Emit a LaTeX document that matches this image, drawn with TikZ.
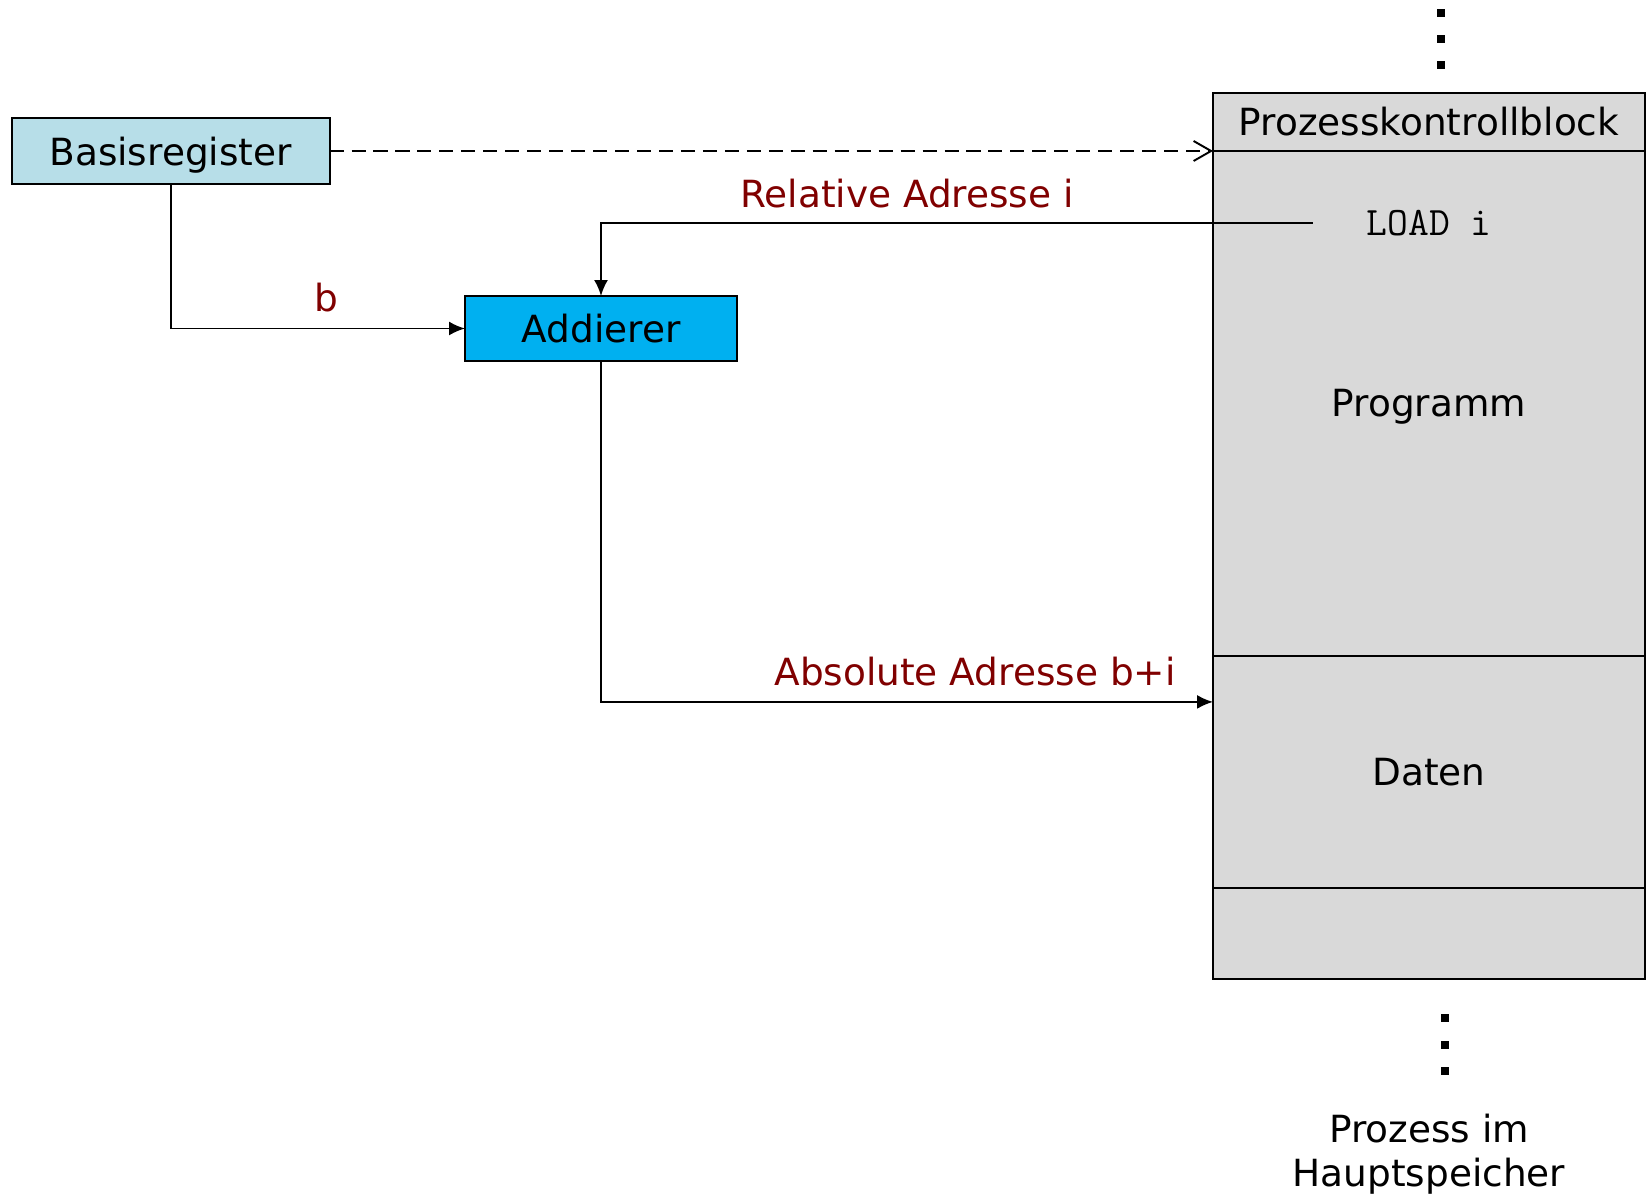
\documentclass[tikz,border=0pt]{standalone}
\usepackage{fontspec}
\setmainfont{DejaVu Sans}
\usetikzlibrary{arrows.meta, positioning}

\definecolor{regcyan}{HTML}{B7DEE8}
\definecolor{addblue}{HTML}{00B0F0}
\definecolor{memgray}{HTML}{D9D9D9}
\definecolor{adrred}{HTML}{800000}

\begin{document}
\begin{tikzpicture}[
            x = 0.02cm, y = -0.02cm,
            > = {Latex[length=3.2mm, width=2.8mm]},
            line width = 1.1pt,
            node distance = 0cm,
            every node/.style = {font=\fontsize{21.3}{25}\selectfont}
        ]

        \tikzstyle{box}=[
            draw = black,
            line width = 1.1pt,
            outer sep = 0pt,
            inner sep = 0pt,
            text depth = 0pt
        ]
        \tikzstyle{mem}=[box, fill = memgray, minimum width = 8.64cm]
        \tikzstyle{lbl}=[text = adrred]

        \useasboundingbox (0,0) rectangle (1651,1195);

        % registers
        \node[box, fill=regcyan, minimum width=6.36cm, minimum height=1.32cm] (basis) at (170.6,151) {Basisregister};
        \node[box, fill=addblue, minimum width=5.44cm, minimum height=1.30cm] (add) at (601,328.5) {Addierer};

        % process in memory
        \node[mem, minimum height=1.158cm] (pcb) at (1429,121.7) {Prozesskontrollblock};
        \node[mem, minimum height=10.108cm] (prog) [below=of pcb] {Programm};
        \node[mem, minimum height=4.64cm] (daten) [below=of prog] {Daten};
        \node[mem, minimum height=1.82cm] (rest) [below=of daten] {};
        \node[font=\ttfamily\fontsize{23}{26}\selectfont] (load) at (1429,223) {LOAD i};
        \coordinate[left=0.94cm of load.west] (loadend);
        \coordinate[below=0.92cm of daten.north west] (datin);

        \node[align=center] (proc) at (1429,1154) {Prozess im\\Hauptspeicher};

        % dots
        \foreach \y in {13,39,65}
            \fill (1437.3,\y-3.7) rectangle ++(7.4,7.4);
        \foreach \y in {1018,1045,1071}
            \fill (1441.3,\y-3.7) rectangle ++(7.4,7.4);

        % connectors
        \path[draw, dashed, dash pattern=on 8pt off 4.5pt, -{Straight Barb[length=3.5mm, width=4mm]}]
            (basis.east) -- (basis.east -| pcb.west);
        \path[draw, ->] (basis.south) |- (add.west);
        \path[draw, ->] (loadend) -| (add.north);
        \path[draw, ->] (add.south) |- (datin);

        % labels
        \node[lbl] (b) at (326,298) {b};
        \node[lbl] (rel) at (907,194) {Relative Adresse i};
        \node[lbl] (abs) at (975,672) {Absolute Adresse b+i};

    \end{tikzpicture}
\end{document}
